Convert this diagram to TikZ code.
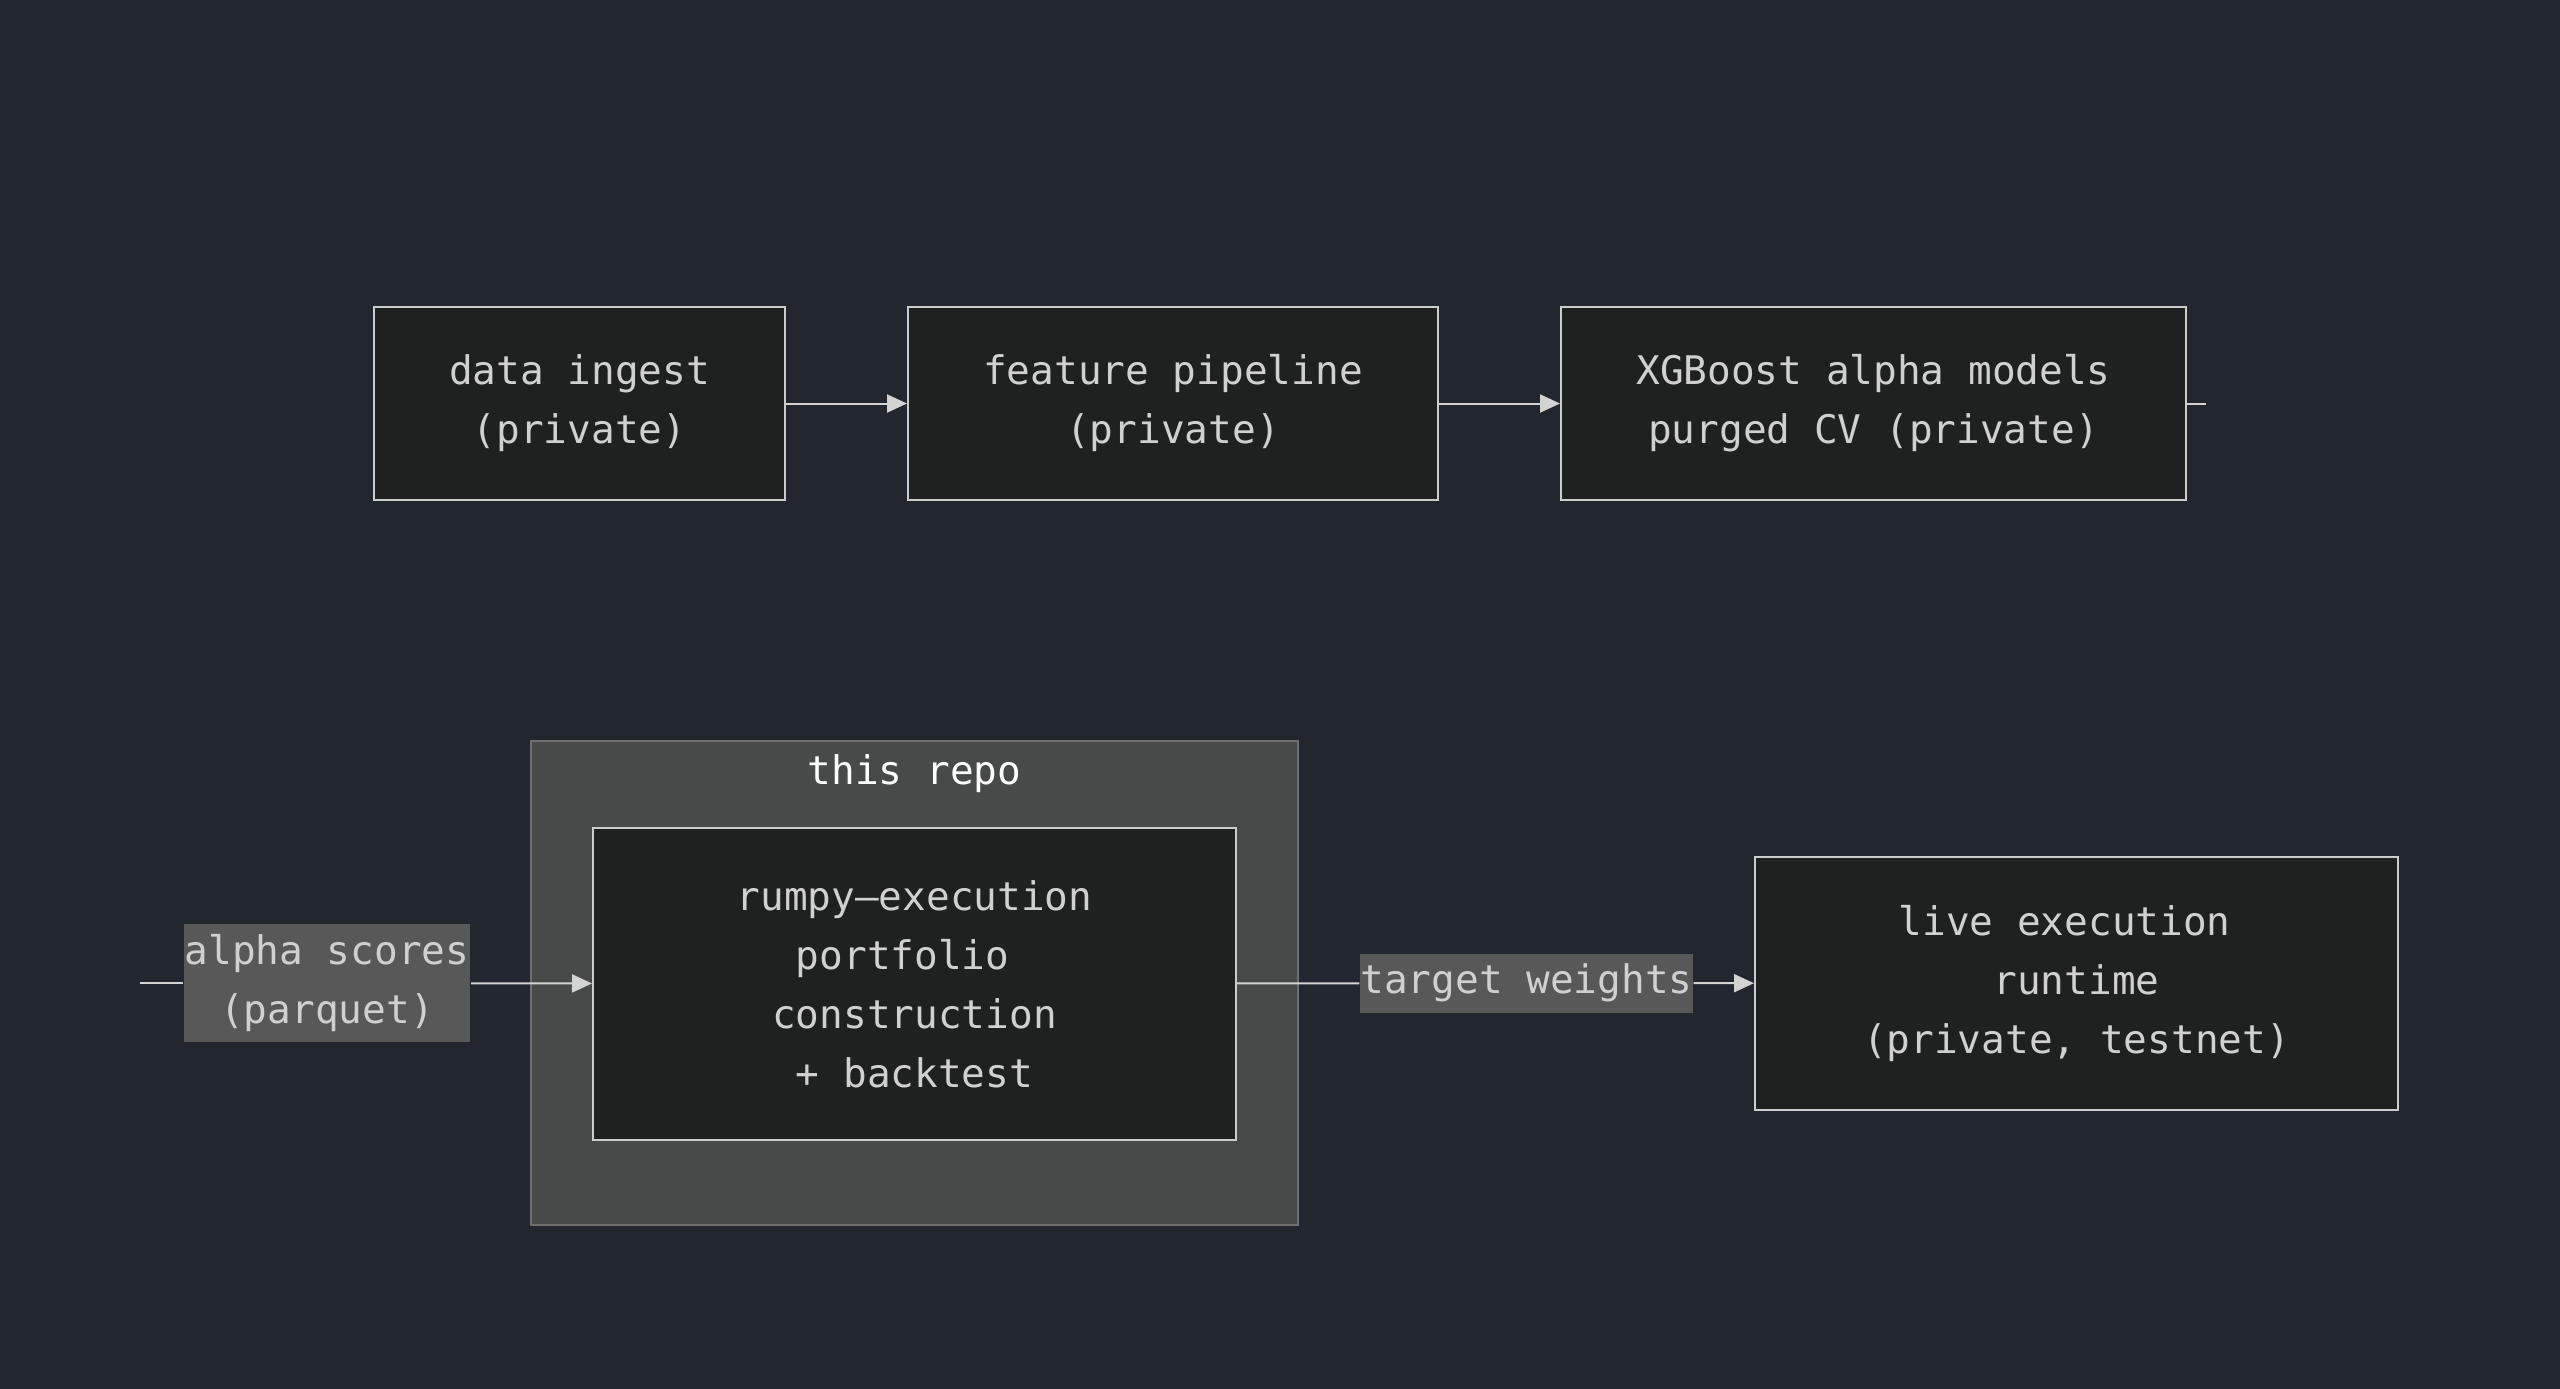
\documentclass[tikz,border=0pt]{standalone}
\usepackage{fontspec}
\setmonofont{DejaVu Sans Mono}
\usetikzlibrary{positioning,arrows.meta}
\definecolor{bgcol}{HTML}{22262E}
\definecolor{nodefill}{HTML}{1F2020}
\definecolor{nodeline}{HTML}{CCCCCC}
\definecolor{nodetext}{HTML}{D0D0D0}
\definecolor{clusterfill}{HTML}{484A49}
\definecolor{clusterline}{HTML}{6E706F}
\definecolor{lblfill}{HTML}{585858}
\definecolor{edgecol}{HTML}{D3D3D3}

\begin{document}
\begin{tikzpicture}
	[x=1pt,y=1pt,line width=1pt,
	every node/.style={font=\ttfamily\fontsize{19.7}{29.5}\selectfont,text=nodetext,align=center},
	proc/.style={draw=nodeline,fill=nodefill,inner sep=0pt,minimum height=96.5pt},
	repobox/.style={draw=clusterline,fill=clusterfill,inner sep=0pt},
	lbl/.style={fill=lblfill,inner sep=0pt},
	flow/.style={draw=edgecol,-{Triangle[length=10pt,width=9pt]}}]
	\useasboundingbox (0,0) rectangle (1280,-694);
	\fill[bgcol] (-3,3) rectangle (1283,-697);
	% upper row
	\node[proc,minimum width=205.5pt] (ingest) at (289.75,-201.75) {data ingest\\(private)};
	\node[proc,minimum width=265pt] (feat) at (586.5,-201.75) {feature pipeline\\(private)};
	\node[proc,minimum width=312.5pt] (xgb) at (936.75,-201.75) {XGBoost alpha models\\purged CV (private)};
	\coordinate (stub) at (1103,-201.75);
	\draw[flow] (ingest) -- (feat);
	\draw[flow] (feat) -- (xgb);
	\draw[draw=edgecol] (xgb) -- (stub);
	% lower row
	\node[repobox,minimum width=383.5pt,minimum height=242pt] (repo) at (457.25,-491.5) {};
	\node[text=white,inner sep=0pt,below=7pt of repo.north] (repotitle) {this repo};
	\node[proc,minimum width=321.5pt,minimum height=156pt] (core) at (457.25,-492)
		{rumpy–execution\\portfolio\hphantom{x}\\construction\\+ backtest};
	\node[lbl,minimum width=143pt,minimum height=59pt] (scores) at (163.5,-491.5) {alpha scores\\(parquet)};
	\coordinate (src) at (70,-491.5);
	\node[proc,minimum width=321.5pt,minimum height=126.5pt] (live) at (1038.25,-491.75)
		{live execution\hphantom{x}\\runtime\\(private, testnet)};
	\node[lbl,minimum height=29.5pt] (weights) at (763.25,-491.5) {target weights};
	\draw[draw=edgecol] (src) -- (scores);
	\draw[flow] (scores) -- (core);
	\draw[draw=edgecol] (core) -- (weights);
	\draw[flow] (weights) -- (live);
\end{tikzpicture}
\end{document}
